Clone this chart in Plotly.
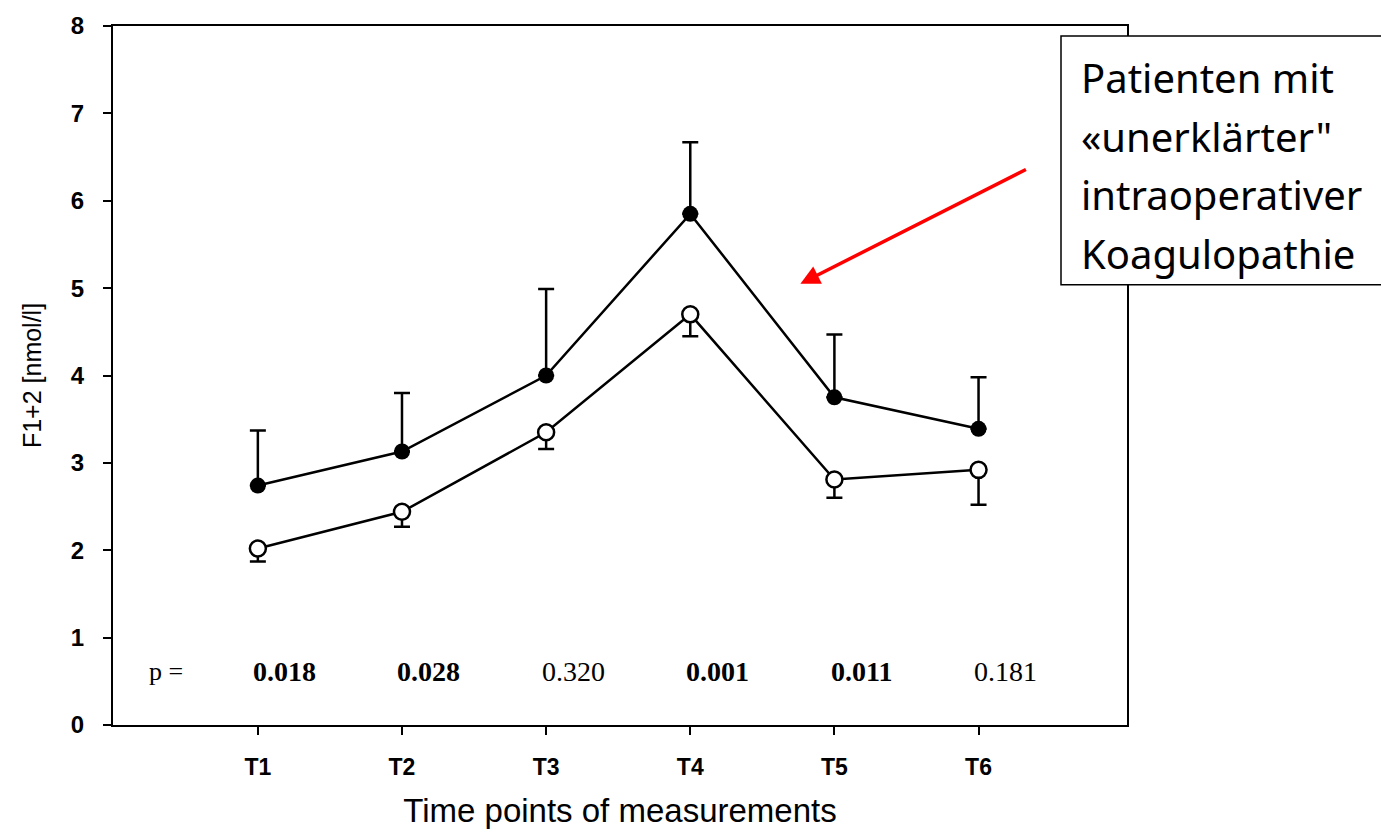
import plotly.graph_objects as go

categories = ["T1", "T2", "T3", "T4", "T5", "T6"]
x_pos = [1, 2, 3, 4, 5, 6]
filled_mean = [2.74, 3.13, 4.00, 5.85, 3.75, 3.39]
filled_err_up = [0.63, 0.67, 0.99, 0.82, 0.72, 0.59]
open_mean = [2.02, 2.44, 3.35, 4.70, 2.81, 2.92]
open_err_down = [0.15, 0.17, 0.19, 0.25, 0.21, 0.40]
p_values = ["0.018", "0.028", "0.320", "0.001", "0.011", "0.181"]
p_bold = [True, True, False, True, True, False]
y_ticks = [0, 1, 2, 3, 4, 5, 6, 7, 8]

fig = go.Figure()

fig.add_trace(go.Scatter(
    x=x_pos, y=filled_mean, mode="lines+markers",
    line=dict(color="black", width=2.5),
    marker=dict(symbol="circle", size=16, color="black"),
    error_y=dict(type="data", symmetric=False, array=filled_err_up,
                 arrayminus=[0] * len(filled_err_up),
                 color="black", thickness=2.5, width=8),
    showlegend=False,
))

fig.add_trace(go.Scatter(
    x=x_pos, y=open_mean, mode="lines+markers",
    line=dict(color="black", width=2.5),
    marker=dict(symbol="circle", size=16, color="white",
                line=dict(color="black", width=2.5)),
    error_y=dict(type="data", symmetric=False, array=[0] * len(open_err_down),
                 arrayminus=open_err_down,
                 color="black", thickness=2.5, width=8),
    showlegend=False,
))

annotations = []
for xp, pv, b in zip(x_pos, p_values, p_bold):
    annotations.append(dict(
        x=xp, y=0.61, xref="x", yref="y", text=f"<b>{pv}</b>" if b else pv,
        showarrow=False, xshift=27,
        font=dict(family="Liberation Serif", size=28, color="black"),
    ))
annotations.append(dict(
    x=0.36, y=0.61, xref="x", yref="y", text="p =", showarrow=False,
    font=dict(family="Liberation Serif", size=26, color="black"),
))

# red arrow
annotations.append(dict(
    x=4.764, y=5.05, xref="x", yref="y", text="", showarrow=True,
    ax=227, ay=-115, arrowcolor="#ff0000", arrowwidth=3.5,
    arrowhead=2, arrowsize=1.1,
))

# text box lines
box_lines = ["Patienten mit", "«unerklärter\"", "intraoperativer", "Koagulopathie"]
box_y = [72, 131, 190, 249]
for line, yp in zip(box_lines, box_y):
    annotations.append(dict(
        x=(1079 - 113) / 1014, y=(725 - yp) / 705, xref="paper", yref="paper",
        xanchor="left", yanchor="middle", text=line, showarrow=False,
        font=dict(family="Noto Sans", size=40, color="black"),
    ))

fig.update_layout(
    width=1381, height=835,
    margin=dict(l=113, r=254, t=20, b=110),
    paper_bgcolor="white", plot_bgcolor="white",
    annotations=annotations,
    shapes=[dict(type="rect", xref="paper", yref="paper",
                 x0=(1061 - 113) / 1014, x1=1.3,
                 y0=(725 - 281) / 705, y1=(725 - 30) / 705,
                 line=dict(color="black", width=1.5), fillcolor="white",
                 layer="above")],
    xaxis=dict(
        range=[-0.005, 7.03], tickvals=x_pos, ticktext=categories,
        showgrid=False, zeroline=False,
        showline=True, linecolor="black", linewidth=2, mirror=True,
        ticks="outside", ticklen=8, tickwidth=2, tickcolor="black",
        ticklabelstandoff=12,
        tickfont=dict(family="Liberation Sans", size=23, color="black", weight="bold"),
        title=dict(text="Time points of measurements", standoff=20,
                   font=dict(family="Liberation Sans", size=33, color="black")),
    ),
    yaxis=dict(
        range=[0, 8], tickvals=y_ticks,
        showgrid=False, zeroline=False,
        showline=True, linecolor="black", linewidth=2, mirror=True,
        ticks="outside", ticklen=8, tickwidth=2, tickcolor="black",
        ticklabelstandoff=14,
        tickfont=dict(family="Liberation Sans", size=24, color="black", weight="bold"),
        title=dict(text="F1+2 [nmol/l]", standoff=22,
                   font=dict(family="Liberation Sans", size=25, color="black")),
    ),
)

fig.write_html("out.html")
